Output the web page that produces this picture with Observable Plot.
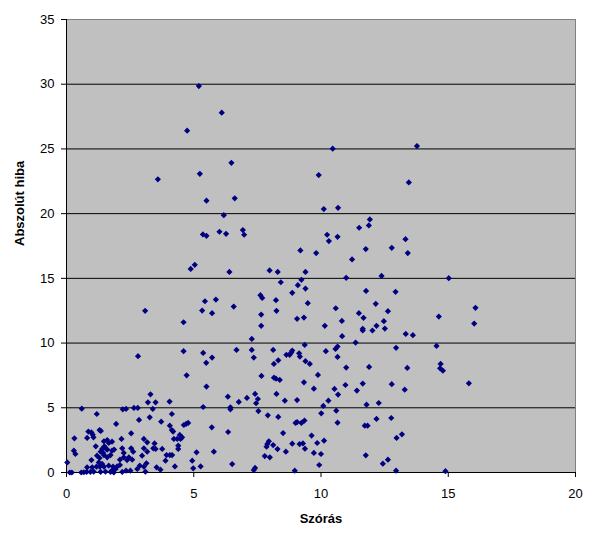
<!DOCTYPE html>
<html><head><meta charset="utf-8">
<script src="https://cdn.jsdelivr.net/npm/d3@7"></script>
<script src="https://cdn.jsdelivr.net/npm/@observablehq/plot@0.6"></script>
<style>body{margin:0;background:#fff;}</style>
</head><body><div id="chart"></div>
<script>
const szoras = [
0.60,1.19,2.21,2.34,2.65,1.30,1.35,0.86,0.98,1.03,1.06,0.81,0.31,
1.95,2.54,2.16,1.60,1.47,1.66,1.79,1.15,1.49,1.40,1.56,1.34,1.44,1.60,1.79,1.87,1.73,1.47,1.60,1.30,1.20,
0.29,0.35,2.19,2.54,2.62,2.25,2.45,2.25,2.10,2.38,2.58,
0.98,1.27,1.40,1.18,1.31,1.47,1.66,1.83,1.99,1.93,1.79,2.10,2.34,2.51,0.03,
0.13,0.21,0.58,0.68,0.79,0.94,1.07,1.34,1.53,1.73,1.86,2.19,0.81,1.01,
3.20,3.50,4.05,2.80,3.39,4.14,2.85,3.27,3.72,4.06,4.14,4.19,4.61,4.70,4.78,
4.45,4.54,4.22,4.35,4.48,4.39,4.39,3.04,3.17,3.46,3.41,3.50,3.76,3.04,3.17,2.97,
3.93,4.06,4.15,3.89,5.11,4.94,5.27,4.98,3.14,3.04,2.88,2.78,3.10,3.54,3.69,4.26,
3.09,4.60,2.81,4.60,4.72,3.30,
5.50,9.72,6.34,6.77,7.09,7.41,7.52,7.45,8.25,8.58,9.06,10.29,
5.37,6.44,6.44,7.54,7.91,8.32,10.09,10.01,9.00,9.06,9.23,9.35,8.51,9.63,9.85,10.12,
5.71,6.35,7.95,7.89,7.86,8.12,8.29,8.87,9.16,9.29,9.37,8.62,9.72,10.00,
7.79,7.99,5.79,6.51,7.36,7.41,8.97,9.93,9.33,
10.53,10.67,10.96,11.41,11.64,11.79,12.27,12.78,13.29,15.81,
10.60,10.65,11.72,11.83,12.18,12.76,12.97,13.18,11.76,12.43,12.63,12.95,14.89,
6.40,7.98,8.30,9.39,9.23,8.42,9.09,9.39,8.87,7.62,7.69,8.23,5.44,5.87,6.57,5.33,5.72,7.65,8.25,9.48,9.06,9.33,10.15,7.65,7.28,
6.68,7.28,8.12,8.87,8.83,8.64,8.77,9.14,9.17,9.36,10.19,5.37,5.72,5.49,7.36,8.32,8.15,9.39,9.56,9.88,7.66,8.15,8.23,8.38,
10.99,12.38,15.02,11.77,12.93,12.15,10.58,12.63,11.49,11.67,10.82,14.63,16.07,16.02,12.47,12.51,12.18,11.64,11.64,12.02,
13.33,13.61,10.83,11.36,12.95,14.54,10.65,10.57,10.65,10.99,11.89,13.39,14.70,14.68,14.79,
6.48,5.24,9.91,5.50,6.61,10.11,6.18,5.36,5.50,6.01,6.27,6.93,6.98,10.24,10.31,9.19,9.81,
10.46,13.77,13.45,10.67,11.92,11.88,11.50,10.65,13.32,11.76,12.78,13.41,11.22,
5.20,6.10,4.74,3.59,5.04,4.88
];
const hiba = [
4.93,4.52,4.88,4.91,4.99,3.28,3.21,3.16,3.10,2.92,2.72,2.67,2.64,
3.75,3.03,2.59,2.51,2.41,2.28,2.38,2.02,2.02,1.82,1.82,1.61,1.51,1.77,1.69,1.77,1.35,1.35,1.17,1.12,1.30,
1.69,1.43,1.87,1.87,1.61,1.51,1.17,1.17,0.99,0.96,0.99,
0.96,0.78,0.66,0.45,0.45,0.45,0.53,0.45,0.47,0.27,0.14,0.58,0.14,0.14,0.78,
0.00,0.00,0.00,0.02,0.04,0.04,0.06,0.04,0.06,0.04,0.00,0.04,0.40,0.40,
5.42,5.42,5.48,4.99,4.91,4.52,4.06,4.26,3.93,3.62,3.28,3.16,3.67,3.75,3.83,
2.90,2.72,2.59,2.59,2.59,2.07,1.82,2.59,2.33,2.25,1.87,1.82,1.82,1.87,1.61,1.30,
1.35,1.35,1.35,0.91,1.56,0.91,0.47,0.32,0.71,0.45,0.53,0.27,0.06,0.40,0.22,0.47,
12.49,11.61,8.99,9.37,7.51,6.04,
6.64,6.48,5.86,5.45,5.76,6.07,5.68,5.35,6.07,5.55,5.60,5.55,
5.06,5.04,4.88,4.75,4.42,4.29,5.14,4.57,3.83,3.90,3.83,4.01,3.05,2.85,2.28,2.46,
3.49,3.13,2.41,2.20,1.99,2.12,1.81,2.23,2.20,2.25,1.84,1.61,1.51,1.43,
1.27,1.17,1.61,0.65,0.19,0.35,0.14,0.58,6.97,
6.46,6.02,6.76,6.33,6.87,5.24,5.37,6.82,6.40,6.89,
4.78,3.85,3.62,3.62,4.14,4.21,2.67,2.95,1.33,0.68,0.99,0.14,0.10,
15.50,15.61,15.50,15.50,14.89,14.70,14.47,14.21,13.88,13.70,13.49,13.31,13.23,13.36,12.82,12.51,12.31,12.20,12.49,13.08,11.87,11.97,11.33,11.33,10.32,
9.47,9.47,9.47,9.42,9.27,9.09,9.09,9.21,8.96,9.86,9.37,9.24,8.88,8.47,8.88,8.67,8.39,8.60,8.39,7.54,7.46,7.33,7.25,7.15,
15.04,15.19,15.01,14.03,13.96,13.03,12.69,12.46,12.31,11.95,11.71,12.05,12.72,11.51,11.69,11.12,11.33,11.10,10.97,10.97,
10.71,10.61,10.53,10.04,9.63,9.78,9.73,9.55,8.93,8.11,8.16,8.08,8.39,8.05,7.87,
23.93,23.08,22.98,21.00,21.18,20.35,19.88,18.39,18.29,18.60,18.44,18.73,18.37,18.37,17.88,17.16,16.95,
25.02,25.22,22.41,20.45,19.55,19.09,18.91,18.21,18.03,17.26,17.36,16.95,16.46,
29.86,27.80,26.41,22.65,16.05,15.73
];
const xTicks = [0, 5, 10, 15, 20];
const yTicks = [0, 5, 10, 15, 20, 25, 30, 35];
const gridLines = [5, 10, 15, 20, 25, 30];
const xTitle = "Szórás";
const yTitle = "Abszolút hiba";

const data = szoras.map((x, i) => ({x, y: hiba[i]}));

const chart = Plot.plot({
  width: 600, height: 545,
  marginLeft: 66, marginRight: 25, marginTop: 19, marginBottom: 73,
  style: {fontFamily: "'Liberation Sans', Arial, sans-serif", fontSize: "13px", background: "#fff", color: "#000", overflow: "visible"},
  x: {domain: [0, 20]},
  y: {domain: [0, 35]},
  marks: [
    Plot.frame({fill: "#C0C0C0", stroke: "#808080"}),
    Plot.ruleY(gridLines, {stroke: "#000", strokeWidth: 1}),
    Plot.ruleX([0], {stroke: "#000"}),
    Plot.ruleY([0], {stroke: "#000"}),
    Plot.axisX({ticks: xTicks, tickSize: 5, tickPadding: 11, label: null, fontSize: 13}),
    Plot.axisY({ticks: yTicks, tickSize: 5, tickPadding: 7, label: null, fontSize: 13}),
    Plot.dot(data, {x: "x", y: "y", symbol: "diamond2", r: 2.8, fill: "#000080", stroke: "none"}),
    Plot.text([xTitle], {text: d => d, frameAnchor: "bottom", dy: 50, fontWeight: "bold", fontSize: 13}),
    Plot.text([yTitle], {text: d => d, frameAnchor: "left", dx: -47, rotate: -90, fontWeight: "bold", fontSize: 13})
  ]
});
document.getElementById("chart").append(chart);
</script></body></html>
